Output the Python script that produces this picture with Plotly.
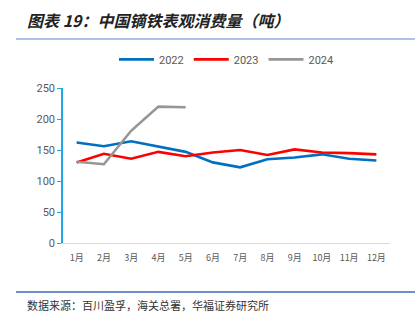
import plotly.graph_objects as go

months = ["1月", "2月", "3月", "4月", "5月", "6月", "7月", "8月", "9月", "10月", "11月", "12月"]
y2022 = [162, 156, 164, 155, 147, 130, 122, 135, 138, 143, 136, 133]
y2023 = [130, 144, 136, 147, 140, 146, 150, 142, 151, 146, 145, 143]
y2024 = [131, 127, 181, 220, 219]

title_text = "图表 19：中国镝铁表观消费量（吨）"
source_text = "数据来源：百川盈孚，海关总署，华福证券研究所"

fig = go.Figure()
series = [("2022", y2022, "#0070c0"), ("2023", y2023, "#ff0000"), ("2024", y2024, "#969696")]
for name, vals, color in series:
    fig.add_trace(go.Scatter(
        x=months[:len(vals)], y=vals, name=name, mode="lines",
        line=dict(color=color, width=2.6),
    ))

fig.update_layout(
    width=419, height=322,
    margin=dict(l=63, r=29, t=88, b=79),
    paper_bgcolor="white", plot_bgcolor="white",
    font=dict(family="Noto Sans CJK SC, Roboto, sans-serif", color="#595959"),
    showlegend=True,
    legend=dict(orientation="h", x=0.5, xanchor="center", y=1.185, yanchor="middle",
                font=dict(size=11, color="#595959", family="Roboto, sans-serif"),
                itemwidth=35, tracegroupgap=0),
    xaxis=dict(
        type="category", range=[-0.5, 11.5], showline=True, linecolor="#d9d9d9", linewidth=1,
        ticks="", tickfont=dict(size=9, color="#595959"), ticklabelstandoff=6,
        showgrid=False, zeroline=False, fixedrange=True,
    ),
    yaxis=dict(
        range=[0, 250], dtick=50, showline=True, linecolor="#1fa8e8", linewidth=1.5,
        ticks="outside", ticklen=4, tickcolor="#1fa8e8",
        tickfont=dict(size=11, color="#595959", family="Roboto, sans-serif"),
        showgrid=False, zeroline=False, fixedrange=True,
    ),
    annotations=[
        dict(text="<b><i>" + title_text + "</i></b>", xref="paper", yref="paper",
             x=(25 - 63) / 327, xanchor="left", y=1 + (88 - 20) / 155, yanchor="middle",
             showarrow=False, font=dict(size=16, color="#222222", family="Noto Sans CJK SC")),
        dict(text=source_text, xref="paper", yref="paper",
             x=(25 - 63) / 327, xanchor="left", y=-(305 - 243) / 155, yanchor="middle",
             showarrow=False, font=dict(size=11, color="#333333", family="Noto Sans CJK SC")),
    ],
    shapes=[
        dict(type="line", xref="paper", yref="paper",
             x0=(16 - 63) / 327, x1=(415 - 63) / 327,
             y0=1 + (88 - 39) / 155, y1=1 + (88 - 39) / 155,
             line=dict(color="#a9c4e4", width=2)),
        dict(type="line", xref="paper", yref="paper",
             x0=(16 - 63) / 327, x1=(415 - 63) / 327,
             y0=-(292 - 243) / 155, y1=-(292 - 243) / 155,
             line=dict(color="#3d6db5", width=1.5)),
    ],
)

fig.write_html("out.html")
